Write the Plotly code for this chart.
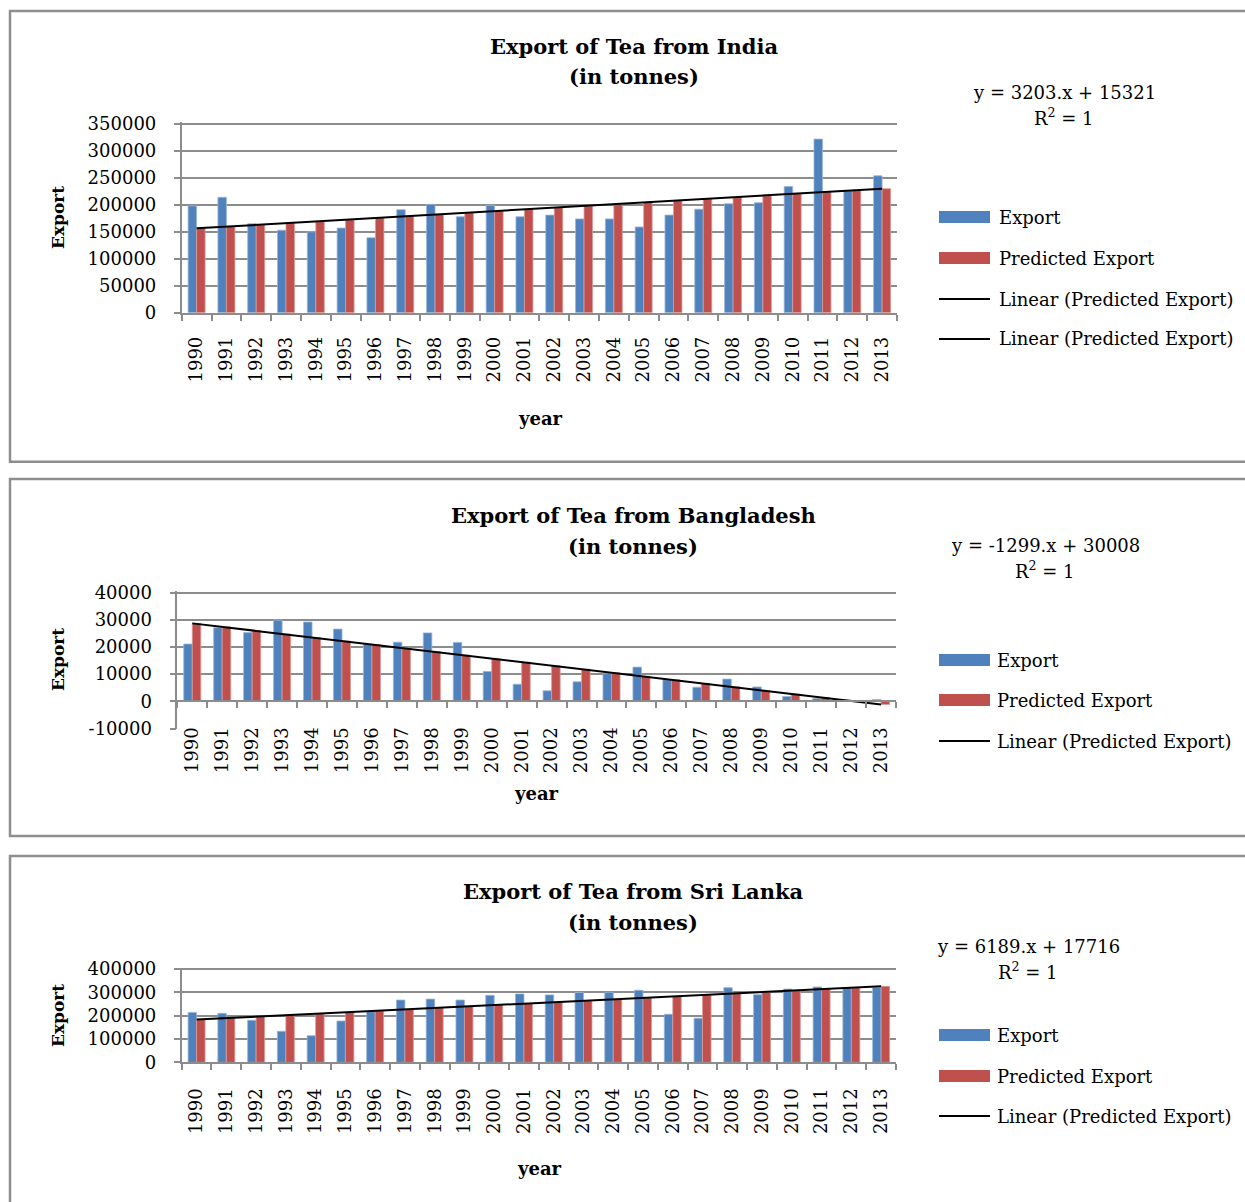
import plotly.graph_objects as go

# ---------------------------------------------------------------- data
years = [str(y) for y in range(1990, 2014)]

india_export = [198000, 214000, 165000, 153000, 150000, 157000, 139000, 191000,
                201000, 178000, 199000, 178000, 181000, 174000, 174000, 159000,
                181000, 192000, 202000, 204000, 234000, 322000, 226000, 254000]
india_predicted = [156416, 159619, 162822, 166025, 169228, 172431, 175634, 178837,
                   182040, 185243, 188446, 191649, 194852, 198055, 201258, 204461,
                   207664, 210867, 214070, 217273, 220476, 223679, 226882, 230085]

bangladesh_export = [21100, 27100, 25300, 29900, 29200, 26600, 21000, 21800,
                     25200, 21700, 11000, 6300, 3900, 7200, 10300, 12600,
                     7900, 5200, 8200, 5300, 1800, 1000, 500, 700]
bangladesh_predicted = [28709, 27410, 26111, 24812, 23513, 22214, 20915, 19616,
                        18317, 17018, 15719, 14420, 13121, 11822, 10523, 9224,
                        7925, 6626, 5327, 4028, 2729, 1430, 131, -1168]

srilanka_export = [214000, 210000, 180000, 133000, 114000, 177000, 217000, 267000,
                   271000, 267000, 287000, 293000, 289000, 299000, 300000, 309000,
                   206000, 189000, 320000, 290000, 314000, 323000, 320000, 321000]
srilanka_predicted = [183349, 189538, 195727, 201916, 208105, 214294, 220483, 226672,
                      232861, 239050, 245239, 251428, 257617, 263806, 269995, 276184,
                      282373, 288562, 294751, 300940, 307129, 313318, 319507, 325696]

india_ticks = [0, 50000, 100000, 150000, 200000, 250000, 300000, 350000]
bangladesh_ticks = [-10000, 0, 10000, 20000, 30000, 40000]
srilanka_ticks = [0, 100000, 200000, 300000, 400000]

# ---------------------------------------------------------------- styling
W, H = 1245, 1202
FONT = "DejaVu Serif"
BLUE = "#4F81BD"
RED = "#C0504D"
GRID = "#8C8C8C"
BORDER = "#8E8E8E"


def fx(px):
    return px / W


def fy(py):
    return 1 - py / H


panels = [
    dict(title="Export of Tea from India", export=india_export, predicted=india_predicted,
         ticks=india_ticks, range_top=353000,
         eq="y = 3203.x + 15321",
         left=181.7, right=897, bottom_px=312.7, top_tick_px=124,
         box=(10, 11, 461.7),
         title_xy=(634, 47, 77), eq_xy=(1064, 92, 117),
         ytitle_xy=(58, 218), xtitle_xy=(540, 418),
         legend_rows=[217, 258, 299, 339], legend_text_x=997,
         xstandoff=15, linear_entries=2),
    dict(title="Export of Tea from Bangladesh", export=bangladesh_export,
         predicted=bangladesh_predicted,
         ticks=bangladesh_ticks, range_top=40600,
         eq="y = -1299.x + 30008",
         left=177.3, right=896, bottom_px=728.5, top_tick_px=592.7,
         box=(10, 479, 836),
         title_xy=(633, 515, 546), eq_xy=(1045, 545, 570),
         ytitle_xy=(58, 660), xtitle_xy=(536, 793),
         legend_rows=[660, 700, 741], legend_text_x=995,
         xstandoff=18, linear_entries=1),
    dict(title="Export of Tea from Sri Lanka", export=srilanka_export,
         predicted=srilanka_predicted,
         ticks=srilanka_ticks, range_top=406000,
         eq="y = 6189.x + 17716",
         left=181.7, right=896, bottom_px=1062.3, top_tick_px=969,
         box=(10, 856, 1215),
         title_xy=(633, 891, 922), eq_xy=(1028, 946, 971),
         ytitle_xy=(58, 1016), xtitle_xy=(539, 1168),
         legend_rows=[1035, 1076, 1116], legend_text_x=995,
         xstandoff=17, linear_entries=1),
]

fig = go.Figure()
shapes = []
annotations = []
layout_axes = {}

for i, p in enumerate(panels, start=1):
    xa, ya = f"x{i}", f"y{i}"
    lo, top_tick, hi = p["ticks"][0], p["ticks"][-1], p["range_top"]
    # pixel scale of the value axis and the resulting domain
    px_per_val = (p["bottom_px"] - p["top_tick_px"]) / (top_tick - lo)
    top_px = p["bottom_px"] - (hi - lo) * px_per_val
    y_dom = [fy(p["bottom_px"]), fy(top_px)]
    x_dom = [fx(p["left"]), fx(p["right"])]

    fig.add_trace(go.Bar(x=years, y=p["export"], name="Export",
                         marker=dict(color=BLUE, line=dict(color="#9BB5D8", width=0.8)),
                         xaxis=xa, yaxis=ya, showlegend=False))
    fig.add_trace(go.Bar(x=years, y=p["predicted"], name="Predicted Export",
                         marker=dict(color=RED, line=dict(color="#DA9A98", width=0.8)),
                         xaxis=xa, yaxis=ya, showlegend=False))
    fig.add_trace(go.Scatter(x=years, y=p["predicted"], mode="lines",
                             name="Linear (Predicted Export)",
                             line=dict(color="black", width=2),
                             xaxis=xa, yaxis=ya, showlegend=False))

    xaxis = dict(type="category", domain=x_dom, range=[-0.5, 23.5],
                 automargin=False,
                 showline=True, linecolor=GRID, linewidth=1.6,
                 ticks="outside", ticklen=6, tickcolor=GRID, tickwidth=1.5,
                 tickson="boundaries", tickangle=-90,
                 tickfont=dict(family=FONT, size=18, color="black"),
                 ticklabelstandoff=p["xstandoff"],
                 showgrid=False, zeroline=False, fixedrange=True)
    if lo < 0:
        # category axis runs along the zero line
        xaxis["anchor"] = "free"
        xaxis["position"] = y_dom[0] + (0 - lo) / (hi - lo) * (y_dom[1] - y_dom[0])
    else:
        xaxis["anchor"] = ya

    yaxis = dict(domain=y_dom, range=[lo, hi], anchor=xa, automargin=False,
                 tickmode="array", tickvals=p["ticks"],
                 ticktext=[str(v) for v in p["ticks"]],
                 showgrid=True, gridcolor=GRID, gridwidth=1.5,
                 showline=True, linecolor=GRID, linewidth=1.6,
                 ticks="outside", ticklen=6, tickcolor=GRID, tickwidth=1.5,
                 tickfont=dict(family=FONT, size=18, color="black"),
                 ticklabelstandoff=14, zeroline=False, fixedrange=True)
    layout_axes[f"xaxis{i}"] = xaxis
    layout_axes[f"yaxis{i}"] = yaxis

    # panel frame
    bx, by0, by1 = p["box"]
    shapes.append(dict(type="rect", xref="paper", yref="paper",
                       x0=fx(bx), x1=fx(W + 20), y0=fy(by1), y1=fy(by0),
                       line=dict(color=BORDER, width=2.5), layer="above"))

    # chart title
    tx, ty1, ty2 = p["title_xy"]
    for text, ty in ((p["title"], ty1), ("(in tonnes)", ty2)):
        annotations.append(dict(text=f"<b>{text}</b>", x=fx(tx), y=fy(ty),
                                xref="paper", yref="paper", showarrow=False,
                                xanchor="center", yanchor="middle",
                                font=dict(family=FONT, size=21, color="black")))

    # trendline equation
    ex, ey1, ey2 = p["eq_xy"]
    for text, ey in ((p["eq"], ey1), ("R<sup>2</sup> = 1", ey2)):
        annotations.append(dict(text=text, x=fx(ex), y=fy(ey),
                                xref="paper", yref="paper", showarrow=False,
                                xanchor="center", yanchor="middle",
                                font=dict(family=FONT, size=18, color="black")))

    # axis titles
    yx, yy = p["ytitle_xy"]
    annotations.append(dict(text="<b>Export</b>", x=fx(yx), y=fy(yy),
                            xref="paper", yref="paper", showarrow=False,
                            textangle=-90, xanchor="center", yanchor="middle",
                            font=dict(family=FONT, size=17, color="black")))
    tx_, ty_ = p["xtitle_xy"]
    annotations.append(dict(text="<b>year</b>", x=fx(tx_), y=fy(ty_),
                            xref="paper", yref="paper", showarrow=False,
                            xanchor="center", yanchor="middle",
                            font=dict(family=FONT, size=18, color="black")))

    # legend
    entries = [("Export", "bar", BLUE), ("Predicted Export", "bar", RED)]
    entries += [("Linear (Predicted Export)", "line", "black")] * p["linear_entries"]
    for (label, kind, color), ry in zip(entries, p["legend_rows"]):
        if kind == "bar":
            shapes.append(dict(type="rect", xref="paper", yref="paper",
                               x0=fx(939), x1=fx(990), y0=fy(ry + 6), y1=fy(ry - 6),
                               fillcolor=color, line=dict(width=0)))
        else:
            shapes.append(dict(type="line", xref="paper", yref="paper",
                               x0=fx(939), x1=fx(990), y0=fy(ry), y1=fy(ry),
                               line=dict(color=color, width=2)))
        annotations.append(dict(text=label, x=fx(p["legend_text_x"]), y=fy(ry),
                                xref="paper", yref="paper", showarrow=False,
                                xanchor="left", yanchor="middle",
                                font=dict(family=FONT, size=18, color="black")))

fig.update_layout(
    width=W, height=H, autosize=False,
    margin=dict(l=0, r=0, t=0, b=0, pad=0, autoexpand=False),
    paper_bgcolor="white", plot_bgcolor="white",
    barmode="group", bargap=0.43, bargroupgap=0,
    showlegend=False,
    shapes=shapes, annotations=annotations,
    font=dict(family=FONT, color="black"),
    **layout_axes,
)

fig.write_html("out.html")
